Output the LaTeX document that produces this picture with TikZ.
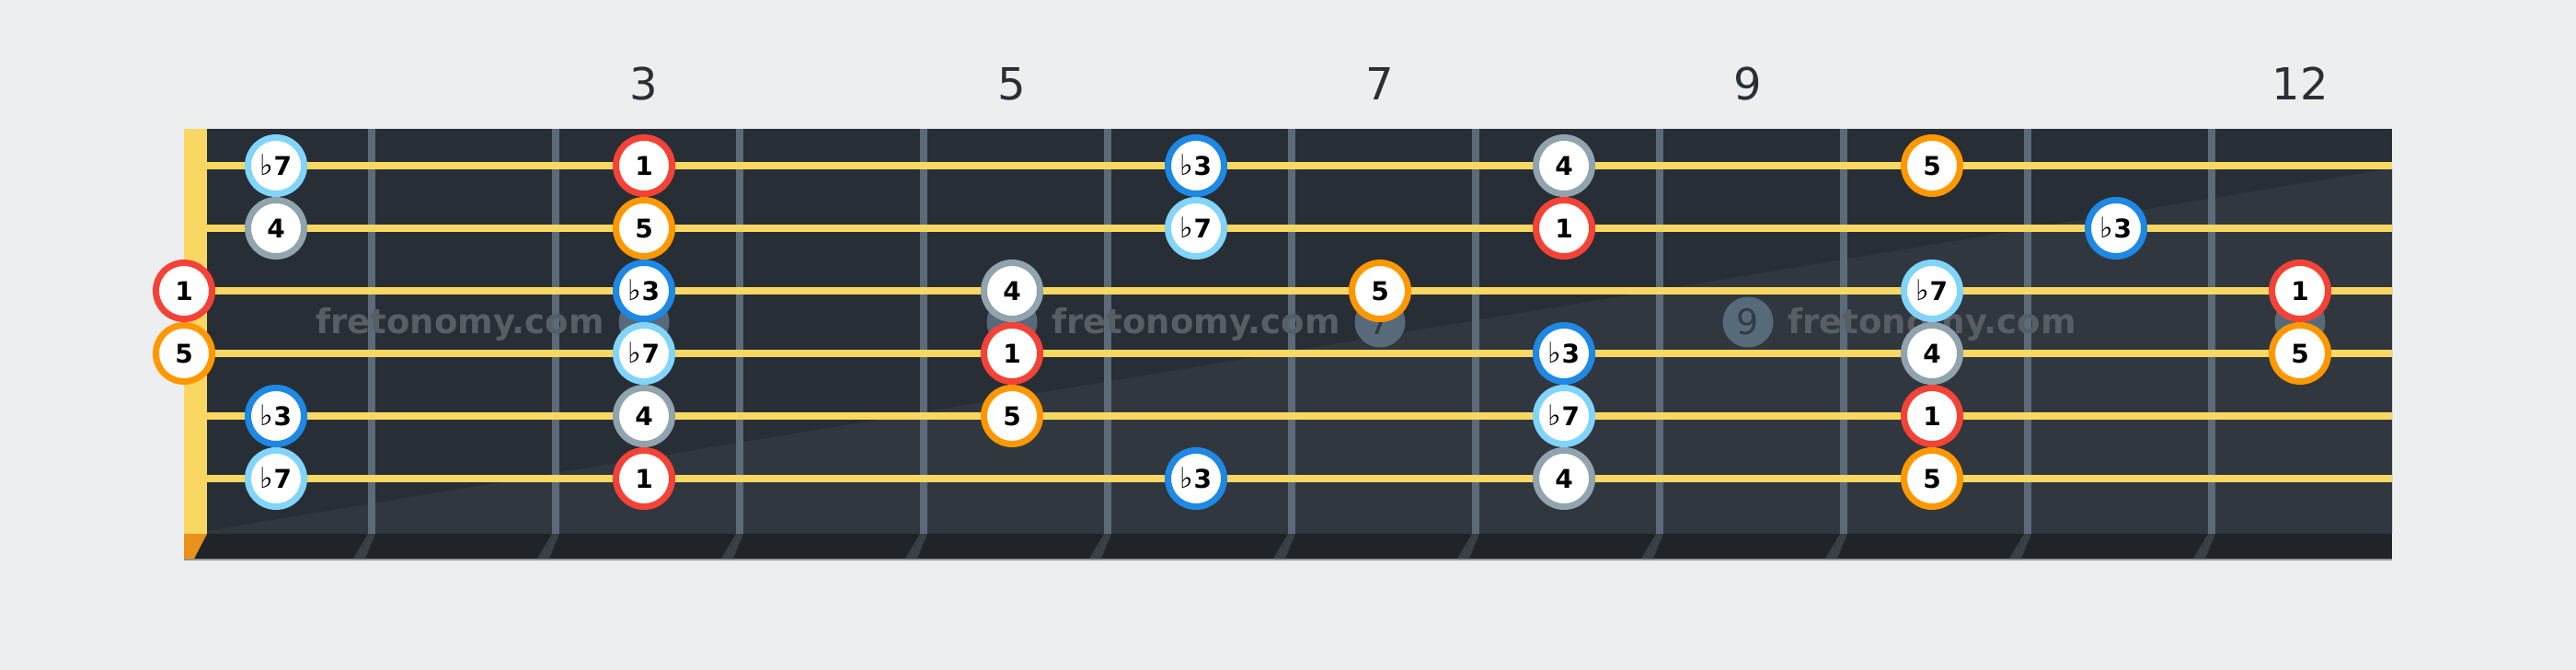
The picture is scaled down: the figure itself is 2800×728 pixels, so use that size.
\documentclass[tikz,border=0pt]{standalone}
\usepackage{fontspec}
\setmainfont{DejaVu Sans}
\definecolor{bg}{HTML}{EDEEF0}
\definecolor{board}{HTML}{282E36}
\definecolor{boardlight}{HTML}{31373F}
\definecolor{strip}{HTML}{202428}
\definecolor{fretc}{HTML}{5B6B79}
\definecolor{strc}{HTML}{F8D862}
\definecolor{nutlow}{HTML}{E8911C}
\definecolor{shadowc}{HTML}{3A3F46}
\definecolor{dotc}{HTML}{566A7A}
\definecolor{dottext}{HTML}{323C46}
\definecolor{wmc}{HTML}{595E65}
\definecolor{numc}{HTML}{2A2F36}
\definecolor{cR}{HTML}{F44336}
\definecolor{cO}{HTML}{FF9800}
\definecolor{cB}{HTML}{1E88E5}
\definecolor{cL}{HTML}{81D4FA}
\definecolor{cG}{HTML}{90A4AE}
\definecolor{edgec}{HTML}{8F959C}
\newcommand\flatsym{{\fontsize{31}{31}\selectfont\mdseries ♭}}
\tikzset{
  note/.style={circle, draw=#1, line width=7pt, fill=white, minimum size=61pt,
    inner sep=0pt, text height=20.5pt, text depth=0pt, text=black,
    font=\fontsize{28}{30}\selectfont\bfseries},
  fretnum/.style={anchor=base, text=numc, inner sep=0pt, font=\fontsize{48}{50}\selectfont},
  inlay/.style={circle, fill=dotc, minimum size=55pt, inner sep=0pt, text=dottext,
    font=\fontsize{38}{40}\selectfont},
  wmark/.style={anchor=base, text=wmc, inner sep=0pt, font=\fontsize{37}{39}\selectfont\bfseries}
}
\begin{document}
\begin{tikzpicture}[x=1pt,y=-1pt]
\path[use as bounding box, fill=bg] (0,0) rectangle (2800,728);
% fretboard
\fill[board] (200,140) rectangle (2600,580);
\fill[boardlight] (225,577) -- (2600,183) -- (2600,580) -- (225,580) -- cycle;
\fill[strip] (200,580) rectangle (2600,608);
\draw[edgec, line width=2pt] (200,608) -- (2600,608);
% fret wires and their shadows
\foreach \n in {1,...,11}{
  \fill[shadowc] ({200+200*\n},580) -- ({208+200*\n},580) -- ({197+200*\n},607) -- ({184+200*\n},607) -- cycle;
  \fill[fretc] ({200+200*\n},140) rectangle ({208+200*\n},580);
}
% inlays
\node[inlay] (d3) at (700,350) {};
\node[inlay] (d5) at (1100,350) {};
\node[inlay] (d7) at (1500,350) {7};
\node[inlay] (d9) at (1900,350) {9};
\node[inlay] (d12) at (2500,350) {};
% watermarks
\node[wmark] (wm1) at (500,362) {fretonomy.com};
\node[wmark] (wm2) at (1300,362) {fretonomy.com};
\node[wmark] (wm3) at (2100,362) {fretonomy.com};
% strings
\foreach \y in {180,248,316,384,452,520}
  \draw[strc, line width=8pt] (225,\y) -- (2600,\y);
% nut
\fill[strc] (200,140) rectangle (225,580);
\fill[nutlow] (200,580) -- (225,580) -- (211,607) -- (200,607) -- cycle;
% fret numbers
\node[fretnum] (n3) at (700,108) {3};
\node[fretnum] (n5) at (1100,108) {5};
\node[fretnum] (n7) at (1500,108) {7};
\node[fretnum] (n9) at (1900,108) {9};
\node[fretnum] (n12) at (2500,108) {12};
% string 1
\node[note=cL] (a1) at (300,180) {\flatsym7};
\node[note=cR] (a3) at (700,180) {1};
\node[note=cB] (a6) at (1300,180) {\flatsym3};
\node[note=cG] (a8) at (1700,180) {4};
\node[note=cO] (a10) at (2100,180) {5};
% string 2
\node[note=cG] (b1) at (300,248) {4};
\node[note=cO] (b3) at (700,248) {5};
\node[note=cL] (b6) at (1300,248) {\flatsym7};
\node[note=cR] (b8) at (1700,248) {1};
\node[note=cB] (b11) at (2300,248) {\flatsym3};
% string 3
\node[note=cR] (c0) at (200,316) {1};
\node[note=cB] (c3) at (700,316) {\flatsym3};
\node[note=cG] (c5) at (1100,316) {4};
\node[note=cO] (c7) at (1500,316) {5};
\node[note=cL] (c10) at (2100,316) {\flatsym7};
\node[note=cR] (c12) at (2500,316) {1};
% string 4
\node[note=cO] (e0) at (200,384) {5};
\node[note=cL] (e3) at (700,384) {\flatsym7};
\node[note=cR] (e5) at (1100,384) {1};
\node[note=cB] (e8) at (1700,384) {\flatsym3};
\node[note=cG] (e10) at (2100,384) {4};
\node[note=cO] (e12) at (2500,384) {5};
% string 5
\node[note=cB] (f1) at (300,452) {\flatsym3};
\node[note=cG] (f3) at (700,452) {4};
\node[note=cO] (f5) at (1100,452) {5};
\node[note=cL] (f8) at (1700,452) {\flatsym7};
\node[note=cR] (f10) at (2100,452) {1};
% string 6
\node[note=cL] (g1) at (300,520) {\flatsym7};
\node[note=cR] (g3) at (700,520) {1};
\node[note=cB] (g6) at (1300,520) {\flatsym3};
\node[note=cG] (g8) at (1700,520) {4};
\node[note=cO] (g10) at (2100,520) {5};
\end{tikzpicture}
\end{document}
